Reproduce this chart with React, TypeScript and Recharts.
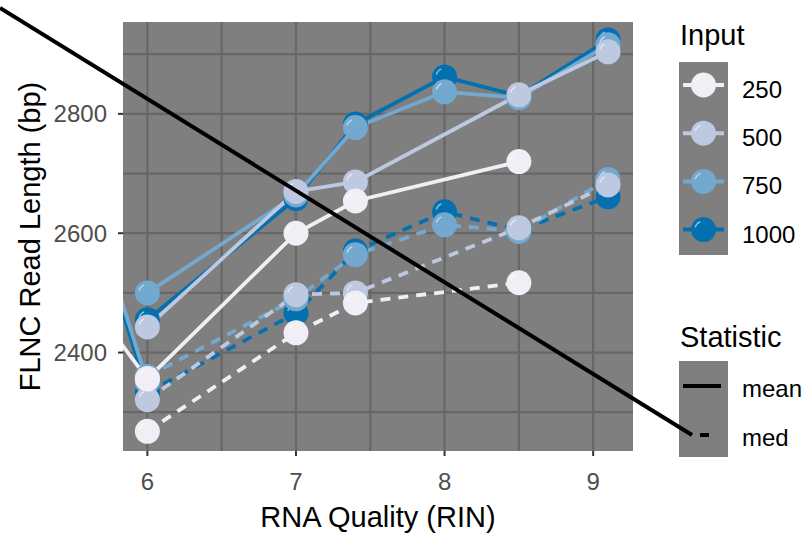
import React from "react";
import { CartesianGrid, Line, LineChart, XAxis, YAxis } from "recharts";

// RIN of the sequenced samples
const rinLevels = [6, 7, 7.4, 8, 8.5, 9.1];

const inputs = ["250", "500", "750", "1000"];
const inputColors = ["#f1eef6", "#bdc9e1", "#74a9cf", "#0570b0"];
const statistics = ["mean", "med"];

// mean FLNC read length per input (null = no sample at that RIN)
const mean250 = [2356, 2600, 2654, null, 2720, null];
const mean500 = [2443, 2670, 2686, null, 2832, 2904];
const mean750 = [2500, 2664, 2777, 2837, 2827, 2916];
const mean1000 = [2455, 2658, 2783, 2862, 2830, 2924];

// median FLNC read length per input
const med250 = [2268, 2433, 2483, null, 2517, null];
const med500 = [2321, 2497, 2500, null, 2609, 2681];
const med750 = [2360, 2490, 2564, 2614, 2603, 2690];
const med1000 = [2333, 2466, 2570, 2636, 2605, 2661];

// mean segments coming in from a sample below the plotted RIN range
const stubRin = 5.5;
const stubStart = [2523, null, 2745, 2740];
const stubEnd = [2356, null, 2350, 2333];

const xTicks = [6, 7, 8, 9];
const yTicks = [2400, 2600, 2800];
const xGrid = [6, 6.5, 7, 7.5, 8, 8.5, 9];
const yGrid = [2300, 2400, 2500, 2600, 2700, 2800, 2900];

const FONT = "'Liberation Sans', Arial, sans-serif";

type Pt = { x: number; y: number | null };

function buildSeries(values: (number | null)[], a: number | null, b: number | null): Pt[] {
  const pts: Pt[] = [];
  if (a != null && b != null) {
    pts.push({ x: stubRin, y: a }, { x: rinLevels[0], y: b }, { x: rinLevels[0], y: null });
  }
  rinLevels.forEach((x, i) => {
    const v = values[i];
    if (v != null) pts.push({ x, y: v });
  });
  return pts;
}

const meanValues = [mean250, mean500, mean750, mean1000];
const medValues = [med250, med500, med750, med1000];

// drawn from 1000 down to 250, so the light points sit on top
const series = [3, 2, 1, 0].flatMap((i) => [
  { key: `mean-${inputs[i]}`, color: inputColors[i], dashed: false, data: buildSeries(meanValues[i], stubStart[i], stubEnd[i]) },
  { key: `med-${inputs[i]}`, color: inputColors[i], dashed: true, data: buildSeries(medValues[i], null, null) },
]);

function Bubble({ cx, cy, fill }: { cx: number; cy: number; fill: string }) {
  const r = 12.5;
  const hr = 8.5;
  const a0 = (195 * Math.PI) / 180;
  const a1 = (248 * Math.PI) / 180;
  return (
    <g>
      <circle cx={cx} cy={cy} r={r} fill={fill} />
      <path
        d={`M${cx + hr * Math.cos(a0)},${cy + hr * Math.sin(a0)} A${hr},${hr} 0 0 1 ${cx + hr * Math.cos(a1)},${cy + hr * Math.sin(a1)}`}
        fill="none"
        stroke="#ffffff"
        strokeOpacity={0.6}
        strokeWidth={1.3}
      />
    </g>
  );
}

function makeDot(color: string) {
  return (props: any) => {
    const { cx, cy, index, payload } = props;
    if (cx == null || cy == null || payload?.y == null) return <g key={`d-${index}`} />;
    return (
      <g key={`d-${index}`}>
        <Bubble cx={cx} cy={cy} fill={color} />
      </g>
    );
  };
}

function LegendOverlay() {
  const keyTop = 62;
  const step = 48.2;
  return (
    <svg width={810} height={534} style={{ position: "absolute", left: 0, top: 0, pointerEvents: "none" }}>
      <text x={680} y={45} fontSize={29} fontFamily={FONT} fill="#000">Input</text>
      <rect x={679} y={keyTop} width={49} height={193} fill="#7f7f7f" />
      {inputs.map((lab, i) => {
        const cy = keyTop + 23 + i * step;
        return (
          <g key={lab}>
            <line x1={683} x2={724} y1={cy} y2={cy} stroke={inputColors[i]} strokeWidth={4} />
            <Bubble cx={703.5} cy={cy} fill={inputColors[i]} />
            <text x={742} y={cy + 13} fontSize={24} fontFamily={FONT} fill="#000">{lab}</text>
          </g>
        );
      })}
      <text x={680} y={347} fontSize={29} fontFamily={FONT} fill="#000">Statistic</text>
      <rect x={679} y={361} width={49} height={96} fill="#7f7f7f" />
      <line x1={683} x2={721} y1={386} y2={386} stroke="#000" strokeWidth={4} />
      <text x={742} y={397} fontSize={24} fontFamily={FONT} fill="#000">{statistics[0]}</text>
      <line x1={700} x2={709} y1={435} y2={435} stroke="#000" strokeWidth={4} />
      <text x={742} y={446} fontSize={24} fontFamily={FONT} fill="#000">{statistics[1]}</text>
      {/* stray key line running across the figure into the "med" key */}
      <line x1={0} y1={8} x2={692} y2={435} stroke="#000" strokeWidth={4} />
    </svg>
  );
}

export default function App() {
  return (
    <div style={{ position: "relative", width: 810, height: 534, background: "#fff" }}>
      <style>{"body{margin:0}"}</style>
      <LineChart width={810} height={534} margin={{ top: 22, right: 177, bottom: 0, left: 0 }}>
        <CartesianGrid
          fill="#7f7f7f"
          stroke="#676767"
          strokeWidth={2.2}
          verticalValues={xGrid}
          horizontalValues={yGrid}
        />
        <XAxis
          type="number"
          dataKey="x"
          domain={[5.836, 9.268]}
          allowDataOverflow
          ticks={xTicks}
          interval={0}
          height={83}
          axisLine={false}
          tickSize={5}
          tickMargin={17}
          tickLine={{ stroke: "#333333", strokeWidth: 2 }}
          tick={{ fill: "#4d4d4d", fontSize: 24, fontFamily: FONT }}
          label={{
            content: ({ viewBox }: any) => (
              <text
                x={viewBox.x + viewBox.width / 2}
                y={viewBox.y + 76}
                textAnchor="middle"
                fontSize={29}
                fontFamily={FONT}
                fill="#000"
              >
                RNA Quality (RIN)
              </text>
            ),
          }}
        />
        <YAxis
          type="number"
          dataKey="y"
          domain={[2235, 2954]}
          allowDataOverflow
          ticks={yTicks}
          interval={0}
          width={123}
          axisLine={false}
          tickSize={5}
          tickMargin={11}
          tickLine={{ stroke: "#333333", strokeWidth: 2 }}
          tick={{ fill: "#4d4d4d", fontSize: 24, fontFamily: FONT }}
          label={{
            content: ({ viewBox }: any) => {
              const x = viewBox.x + 40;
              const y = viewBox.y + viewBox.height / 2;
              return (
                <text
                  x={x}
                  y={y}
                  transform={`rotate(-90 ${x} ${y})`}
                  textAnchor="middle"
                  fontSize={29}
                  fontFamily={FONT}
                  fill="#000"
                >
                  FLNC Read Length (bp)
                </text>
              );
            },
          }}
        />
        {series.map((s) => (
          <Line
            key={`line-${s.key}`}
            data={s.data}
            dataKey="y"
            type="linear"
            stroke={s.color}
            strokeWidth={3.8}
            strokeDasharray={s.dashed ? "10 8" : undefined}
            dot={false}
            activeDot={false}
            isAnimationActive={false}
            legendType="none"
          />
        ))}
        {series.map((s) => (
          <Line
            key={`pts-${s.key}`}
            data={s.data}
            dataKey="y"
            type="linear"
            stroke="none"
            strokeWidth={0}
            dot={makeDot(s.color)}
            activeDot={false}
            isAnimationActive={false}
            legendType="none"
          />
        ))}
      </LineChart>
      <LegendOverlay />
    </div>
  );
}
